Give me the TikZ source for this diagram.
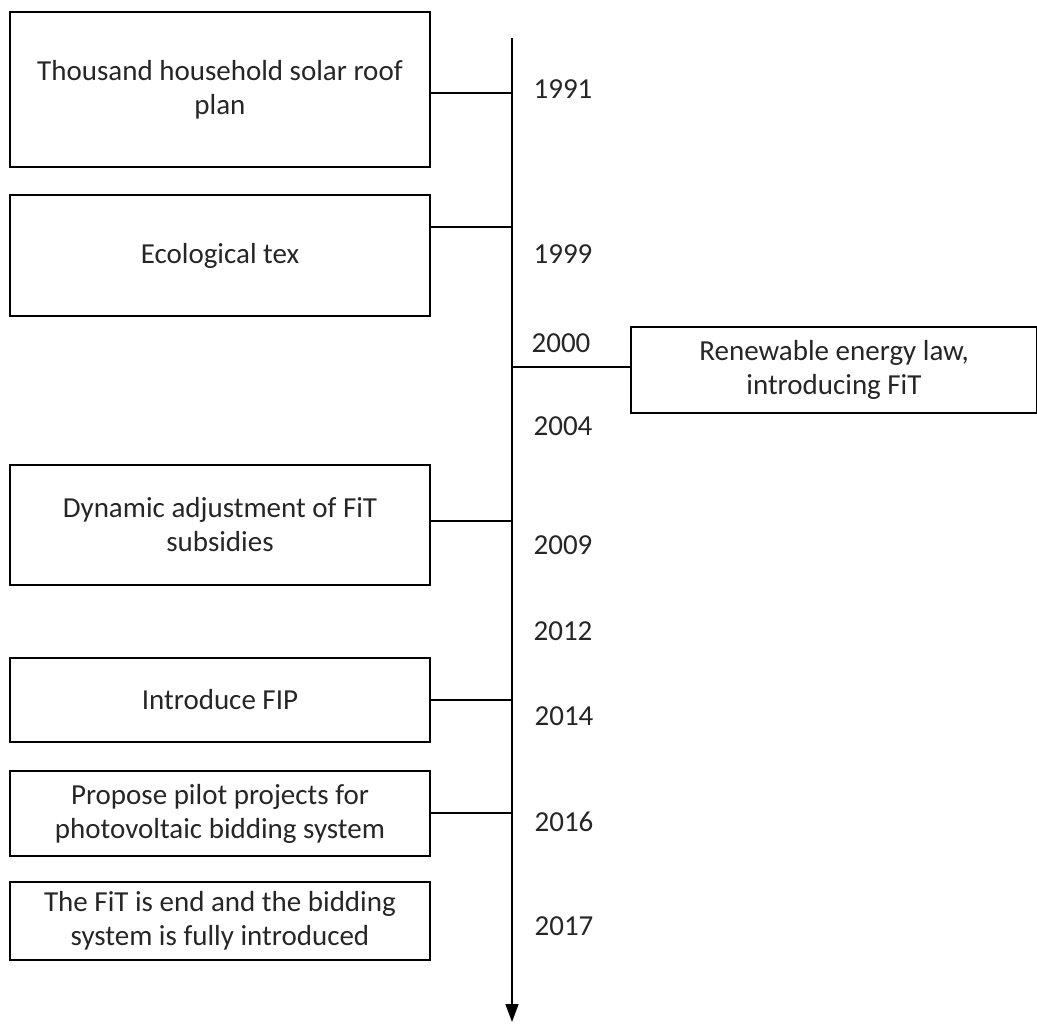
\documentclass[tikz,border=0pt]{standalone}
\usepackage{fontspec}
\setmainfont{Carlito}
\usetikzlibrary{arrows.meta}
\begin{document}
\begin{tikzpicture}[x=1pt,y=-1pt,
  event/.style={draw, line width=1.3pt, minimum width=420pt, align=center,
    inner sep=0pt, font=\fontsize{29}{34}\selectfont, text=black!85},
  year/.style={font=\fontsize{29}{34}\selectfont, text=black!85},
  link/.style={line width=1.3pt}]
\useasboundingbox (0,0) rectangle (1037,1024);

% time axis
\coordinate (axtop) at (512,38);
\coordinate (axend) at (512,1022);
\draw[line width=1.5pt,-{Triangle[length=18pt,width=13pt]}] (axtop) -- (axend);

% events on the left
\node[event, minimum height=155pt] (e1) at (220,89.5) {Thousand household solar roof\\plan};
\node[event, minimum height=121pt] (e2) at (220,255.5) {Ecological tex};
\node[event, minimum height=120pt] (e4) at (220,525) {Dynamic adjustment of FiT\\subsidies};
\node[event, minimum height=84pt] (e5) at (220,700) {Introduce FIP};
\node[event, minimum height=85pt] (e6) at (220,813.5) {Propose pilot projects for\\photovoltaic bidding system};
\node[event, minimum height=78pt] (e7) at (220,921) {The FiT is end and the bidding\\system is fully introduced};

% event on the right
\node[event, minimum width=406pt, minimum height=86pt] (e3) at (834,370) {Renewable energy law,\\introducing FiT};

% junctions on the axis
\coordinate (j1) at (512,93);
\coordinate (j2) at (512,227);
\coordinate (j3) at (512,367);
\coordinate (j4) at (512,521);
\coordinate (j5) at (512,700);
\coordinate (j6) at (512,813);

\draw[link] (e1.east |- j1) -- (j1);
\draw[link] (e2.east |- j2) -- (j2);
\draw[link] (j3) -- (e3.west |- j3);
\draw[link] (e4.east |- j4) -- (j4);
\draw[link] (e5.east |- j5) -- (j5);
\draw[link] (e6.east |- j6) -- (j6);

% years
\node[year] (y1991) at (563,89) {1991};
\node[year] (y1999) at (563,254) {1999};
\node[year] (y2000) at (561,343) {2000};
\node[year] (y2004) at (563,426) {2004};
\node[year] (y2009) at (563,545) {2009};
\node[year] (y2012) at (563,631) {2012};
\node[year] (y2014) at (564,716) {2014};
\node[year] (y2016) at (564,822) {2016};
\node[year] (y2017) at (564,926) {2017};
\end{tikzpicture}
\end{document}
